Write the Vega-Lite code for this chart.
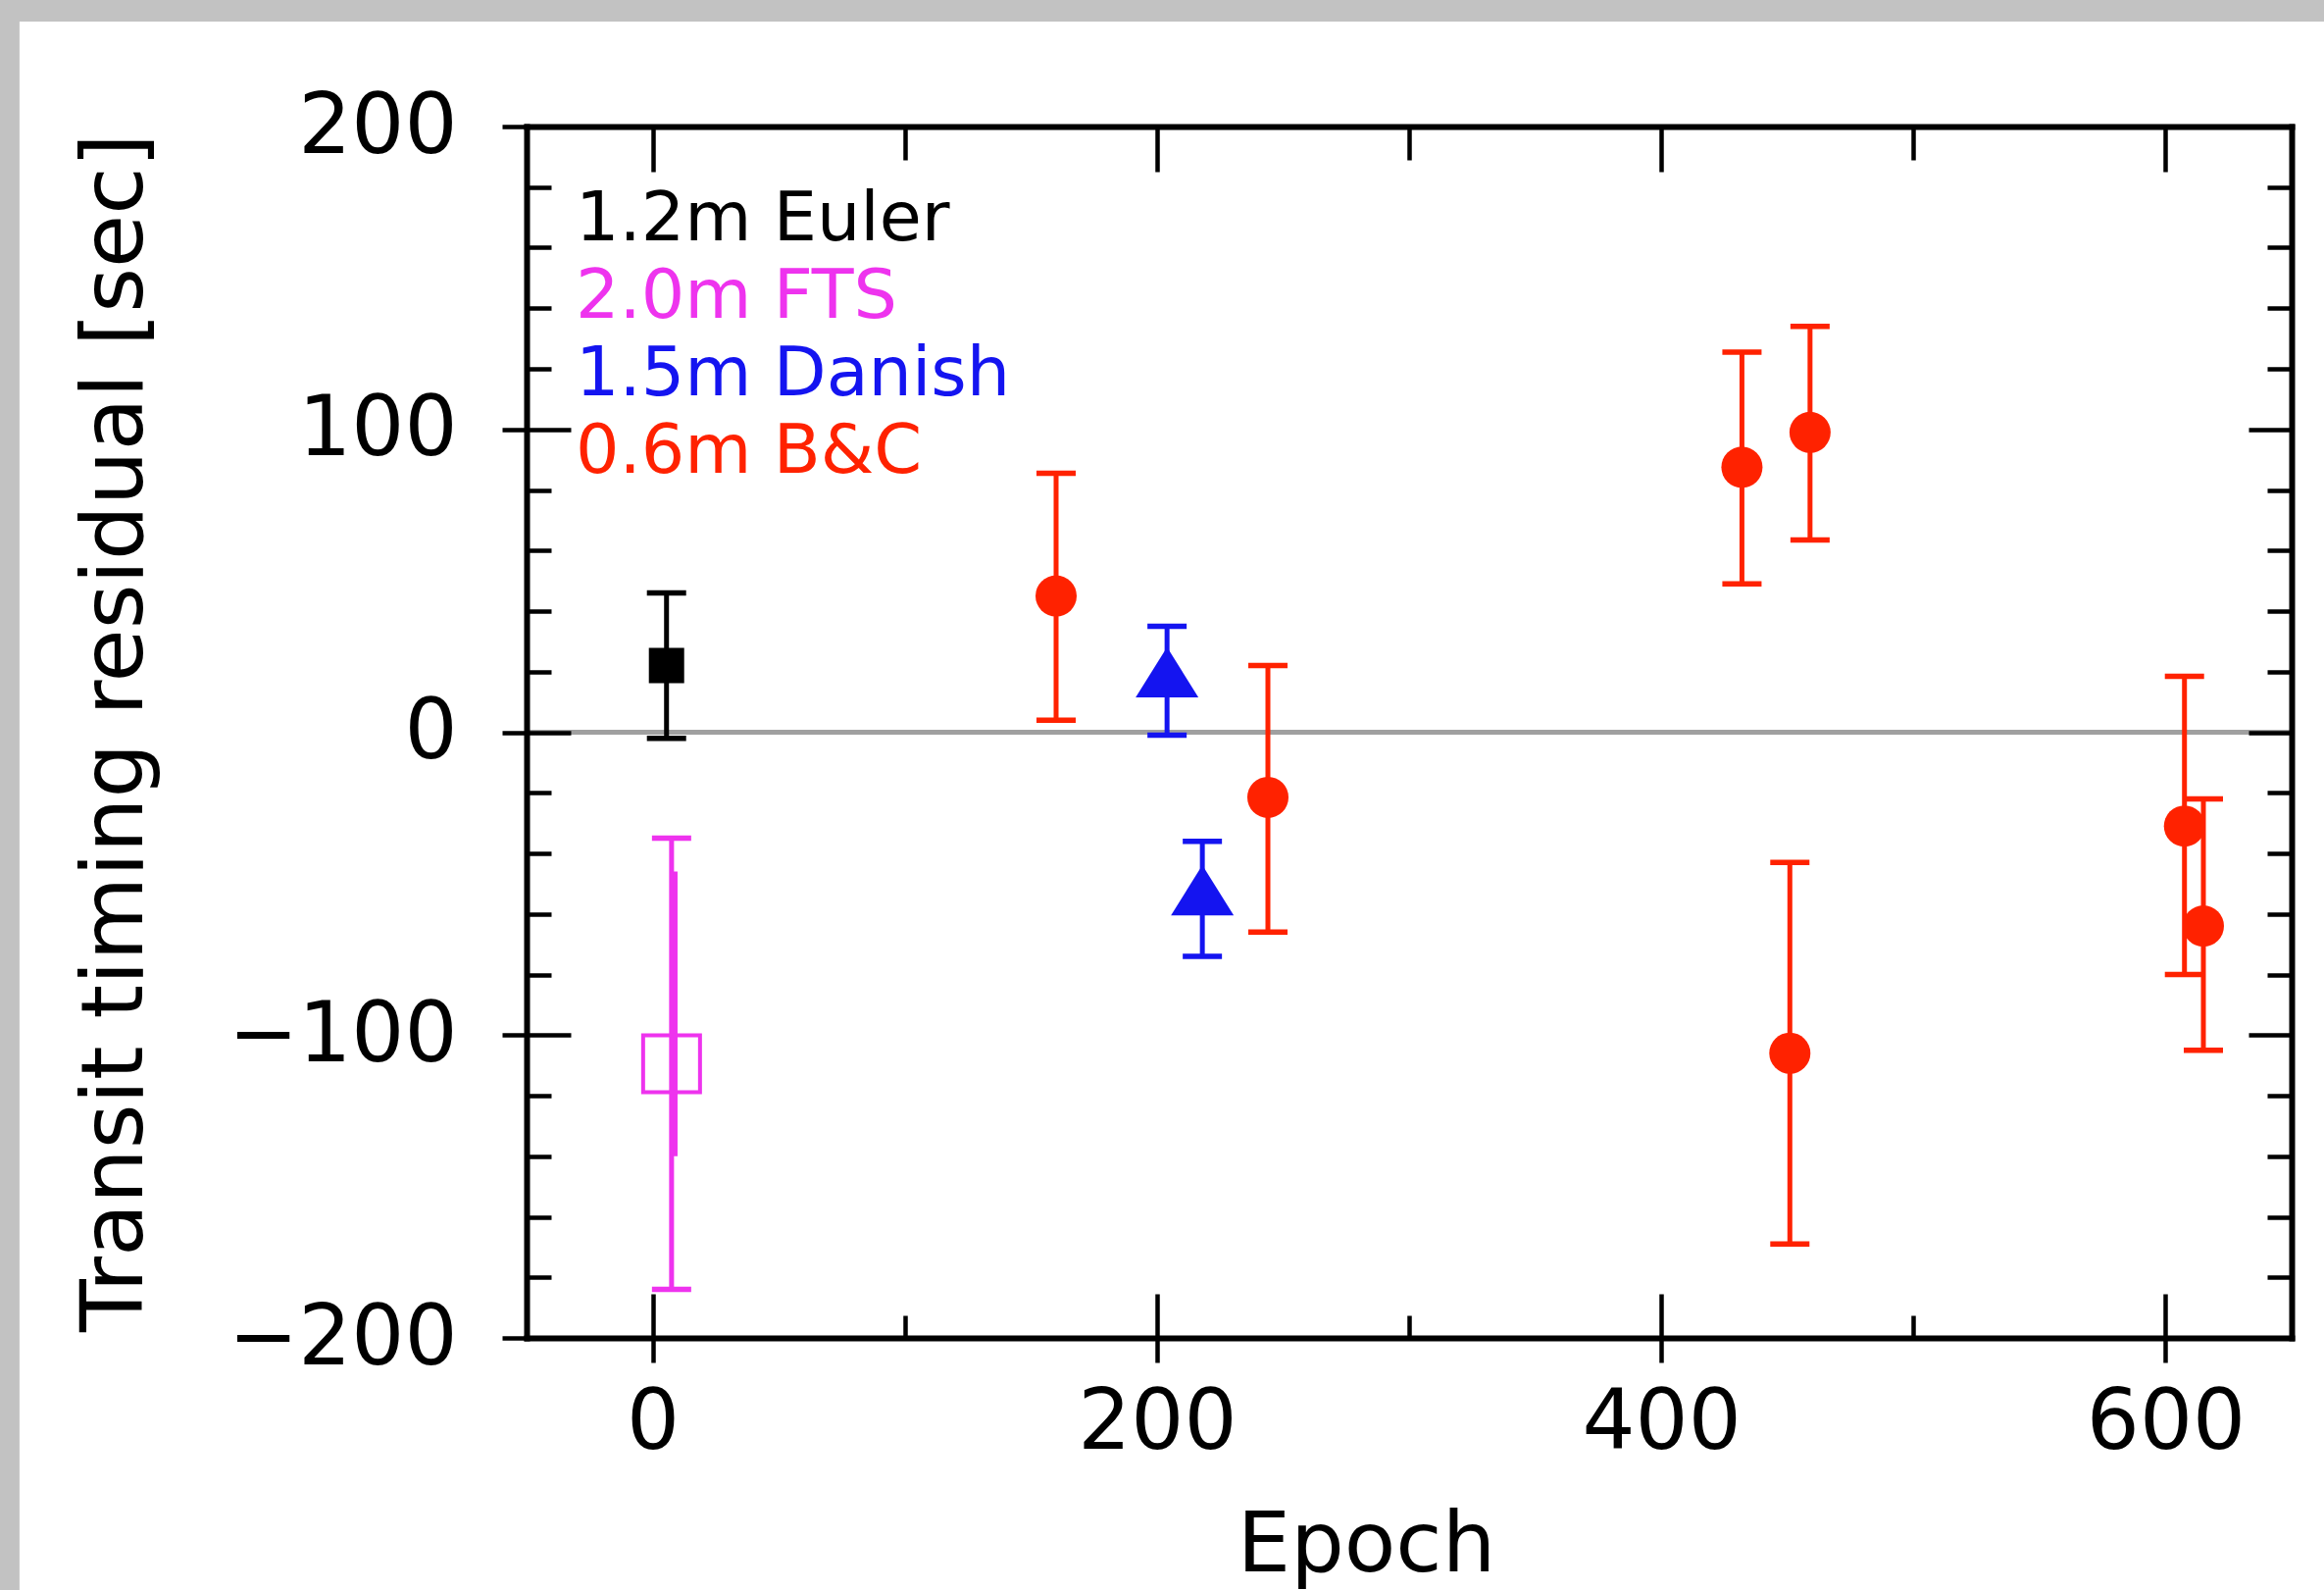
{
  "$schema": "https://vega.github.io/schema/vega-lite/v6.json",
  "width": 1800,
  "height": 1235,
  "autosize": {"type": "none"},
  "padding": {"left": 537, "top": 129, "right": 33, "bottom": 257},
  "background": "#c2c2c2",
  "config": {
    "view": {"stroke": null},
    "axis": {
      "domainColor": "#000000", "domainWidth": 6, "domainCap": "square",
      "tickColor": "#000000", "tickWidth": 4.5,
      "labelFont": "DejaVu Sans", "labelFontSize": 85, "labelColor": "#000000", "labelLimit": 500,
      "titleFont": "DejaVu Sans", "titleFontSize": 86, "titleColor": "#000000", "titleFontWeight": "normal", "titleLimit": 3000,
      "grid": false, "labelFlush": false, "labelOverlap": false, "zindex": 1, "minExtent": 0, "maxExtent": 2000
    }
  },
  "datasets": {
    "obs": [
      {"telescope": "1.2m Euler", "epoch": 5.5, "residual": 22, "lo": -2, "hi": 46},
      {"telescope": "2.0m FTS", "epoch": 7.5, "residual": -109.5, "lo": -184, "hi": -35},
      {"telescope": "1.5m Danish", "epoch": 204, "residual": 17, "lo": -1, "hi": 35},
      {"telescope": "1.5m Danish", "epoch": 218, "residual": -55, "lo": -74, "hi": -36},
      {"telescope": "0.6m B&C", "epoch": 160, "residual": 45, "lo": 4, "hi": 85.5},
      {"telescope": "0.6m B&C", "epoch": 244, "residual": -21.5, "lo": -66, "hi": 22},
      {"telescope": "0.6m B&C", "epoch": 432, "residual": 87.5, "lo": 49, "hi": 125.5},
      {"telescope": "0.6m B&C", "epoch": 459, "residual": 99, "lo": 63.5, "hi": 134},
      {"telescope": "0.6m B&C", "epoch": 451, "residual": -106, "lo": -169, "hi": -43},
      {"telescope": "0.6m B&C", "epoch": 607.5, "residual": -31, "lo": -80, "hi": 18.5},
      {"telescope": "0.6m B&C", "epoch": 615, "residual": -64, "lo": -105, "hi": -22}
    ],
    "inner": [
      {"telescope": "2.0m FTS", "epoch": 9, "lo": -140, "hi": -46}
    ]
  },
  "resolve": {"axis": {"x": "independent", "y": "independent"}},
  "layer": [
    {
      "data": {"values": [{}]},
      "mark": {"type": "rect", "fill": "#ffffff", "clip": false},
      "encoding": {
        "x": {"datum": -251.1, "type": "quantitative", "scale": {"domain": [-50, 650], "nice": false, "zero": false}, "axis": null},
        "x2": {"datum": 900},
        "y": {"datum": 234.66, "type": "quantitative", "scale": {"domain": [-200, 200], "nice": false, "zero": false}, "axis": null},
        "y2": {"datum": -700}
      }
    },
    {
      "data": {"values": [{}]},
      "mark": {"type": "rule", "color": "#a0a0a0", "strokeWidth": 5},
      "encoding": {
        "y": {"datum": 0, "type": "quantitative", "scale": {"domain": [-200, 200], "nice": false, "zero": false}, "axis": null}
      }
    },
    {
      "data": {"name": "obs"},
      "mark": {"type": "rule", "strokeWidth": 5, "opacity": 1},
      "encoding": {
        "x": {"field": "epoch", "type": "quantitative",
              "scale": {"domain": [-50, 650], "nice": false, "zero": false},
              "axis": {"orient": "bottom", "values": [0, 200, 400, 600], "tickSize": 25, "labelPadding": 20, "zindex": 2,
                       "title": "Epoch", "titlePadding": 40, "titleX": 856}},
        "y": {"field": "lo", "type": "quantitative",
              "scale": {"domain": [-200, 200], "nice": false, "zero": false},
              "axis": {"orient": "left", "values": [-200, -100, 0, 100, 200], "tickSize": 25, "labelPadding": 46, "zindex": 2,
                       "title": "Transit timing residual [sec]", "titlePadding": 70, "titleFontSize": 88}},
        "y2": {"field": "hi"},
        "color": {"field": "telescope", "type": "nominal",
                  "scale": {"domain": ["1.2m Euler", "2.0m FTS", "1.5m Danish", "0.6m B&C"],
                            "range": ["#000000", "#ee33ee", "#1414f0", "#ff2200"]},
                  "legend": {"orient": "none", "legendX": -20, "legendY": 60, "title": null, "padding": 0,
                             "symbolOpacity": 0, "symbolSize": 0, "symbolStrokeWidth": 0, "labelOffset": 0,
                             "labelFont": "DejaVu Sans", "labelFontSize": 70, "labelLimit": 1000, "rowPadding": 9,
                             "labelColor": {"expr": "scale('color', datum.value)"}}}
      }
    },
    {
      "data": {"name": "inner"},
      "mark": {"type": "rule", "strokeWidth": 4.5, "color": "#ee33ee"},
      "encoding": {
        "x": {"field": "epoch", "type": "quantitative", "scale": {"domain": [-50, 650], "nice": false, "zero": false}, "axis": null},
        "y": {"field": "lo", "type": "quantitative", "scale": {"domain": [-200, 200], "nice": false, "zero": false}, "axis": null},
        "y2": {"field": "hi"}
      }
    },
    {
      "data": {"name": "obs"},
      "mark": {"type": "tick", "orient": "horizontal", "size": 40, "thickness": 5.5, "opacity": 1},
      "encoding": {
        "x": {"field": "epoch", "type": "quantitative",
              "scale": {"domain": [-50, 650], "nice": false, "zero": false},
              "axis": {"orient": "bottom", "values": [0, 200, 400, 600], "tickSize": -45, "labels": false, "domain": false, "title": null, "zindex": 2}},
        "y": {"field": "hi", "type": "quantitative",
              "scale": {"domain": [-200, 200], "nice": false, "zero": false},
              "axis": {"orient": "left", "values": [-100, 0, 100], "tickSize": -45, "labels": false, "domain": false, "title": null, "zindex": 2}},
        "color": {"field": "telescope", "type": "nominal", "legend": null}
      }
    },
    {
      "data": {"name": "obs"},
      "mark": {"type": "tick", "orient": "horizontal", "size": 40, "thickness": 5.5, "opacity": 1},
      "encoding": {
        "x": {"field": "epoch", "type": "quantitative",
              "scale": {"domain": [-50, 650], "nice": false, "zero": false},
              "axis": {"orient": "bottom", "values": [100, 300, 500], "tickSize": -23, "labels": false, "domain": false, "title": null, "zindex": 2}},
        "y": {"field": "lo", "type": "quantitative",
              "scale": {"domain": [-200, 200], "nice": false, "zero": false},
              "axis": {"orient": "left", "values": [-180, -160, -140, -120, -80, -60, -40, -20, 20, 40, 60, 80, 120, 140, 160, 180], "tickSize": -25, "labels": false, "domain": false, "title": null, "zindex": 2}},
        "color": {"field": "telescope", "type": "nominal", "legend": null}
      }
    },
    {
      "data": {"name": "obs"},
      "transform": [{"filter": "datum.telescope === '0.6m B&C'"}],
      "mark": {"type": "point", "shape": "circle", "filled": true, "size": 1764, "color": "#ff2200", "opacity": 1},
      "encoding": {
        "x": {"field": "epoch", "type": "quantitative",
              "scale": {"domain": [-50, 650], "nice": false, "zero": false},
              "axis": {"orient": "top", "values": [0, 200, 400, 600], "tickSize": -46, "labels": false, "domain": true, "title": null, "zindex": 2}},
        "y": {"field": "residual", "type": "quantitative",
              "scale": {"domain": [-200, 200], "nice": false, "zero": false},
              "axis": {"orient": "right", "values": [-100, 0, 100], "tickSize": -44, "labels": false, "domain": true, "title": null, "zindex": 2}}
      }
    },
    {
      "data": {"name": "obs"},
      "transform": [{"filter": "datum.telescope === '1.5m Danish'"}],
      "mark": {"type": "point", "shape": "M0,-1.07L1,0.53L-1,0.53Z", "filled": true, "size": 4096, "color": "#1414f0", "opacity": 1},
      "encoding": {
        "x": {"field": "epoch", "type": "quantitative",
              "scale": {"domain": [-50, 650], "nice": false, "zero": false},
              "axis": {"orient": "top", "values": [100, 300, 500], "tickSize": -34, "labels": false, "domain": false, "title": null, "zindex": 2}},
        "y": {"field": "residual", "type": "quantitative",
              "scale": {"domain": [-200, 200], "nice": false, "zero": false},
              "axis": {"orient": "right", "values": [-180, -160, -140, -120, -80, -60, -40, -20, 20, 40, 60, 80, 120, 140, 160, 180], "tickSize": -25, "labels": false, "domain": false, "title": null, "zindex": 2}}
      }
    },
    {
      "data": {"name": "obs"},
      "transform": [{"filter": "datum.telescope === '1.2m Euler'"}],
      "mark": {"type": "point", "shape": "square", "filled": true, "size": 1296, "color": "#000000", "opacity": 1},
      "encoding": {
        "x": {"field": "epoch", "type": "quantitative", "scale": {"domain": [-50, 650], "nice": false, "zero": false}, "axis": null},
        "y": {"field": "residual", "type": "quantitative", "scale": {"domain": [-200, 200], "nice": false, "zero": false}, "axis": null}
      }
    },
    {
      "data": {"name": "obs"},
      "transform": [{"filter": "datum.telescope === '2.0m FTS'"}],
      "mark": {"type": "point", "shape": "square", "filled": false, "size": 3364, "strokeWidth": 4, "color": "#ee33ee", "opacity": 1},
      "encoding": {
        "x": {"field": "epoch", "type": "quantitative", "scale": {"domain": [-50, 650], "nice": false, "zero": false}, "axis": null},
        "y": {"field": "residual", "type": "quantitative", "scale": {"domain": [-200, 200], "nice": false, "zero": false}, "axis": null}
      }
    }
  ]
}
